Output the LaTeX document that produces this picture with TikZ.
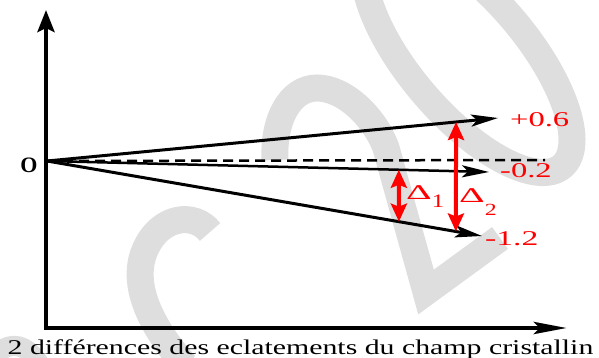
\documentclass[tikz,border=0pt]{standalone}
\usepackage{fontspec}
\setmainfont{Liberation Serif}
\usetikzlibrary{arrows.meta,calc}
\definecolor{wmark}{gray}{0.87}
\newcommand{\wide}[2]{\scalebox{#1}[1]{#2}}

\begin{document}
\begin{tikzpicture}[x=1pt, y=-1pt,
    axis/.style={line width=4.8pt},
    vec/.style={line width=3pt, -{Stealth[length=27pt,width=12pt,inset=6pt]}},
    gap/.style={red, line width=4pt, {Stealth[length=18pt,width=16pt,inset=3pt]}-{Stealth[length=18pt,width=16pt,inset=3pt]}},
    lbl/.style={red, font=\fontsize{21}{21}\selectfont, inner sep=0pt, anchor=base west},
    wm/.style={wmark, line width=27pt}
  ]
    \useasboundingbox (0,0) rectangle (599,358);

    % Watermark in the background
    \begin{scope}
      \clip (0,0) rectangle (599,358);
      \draw[wm] (210,232) .. controls (195,212) and (160,215) .. (145,250) .. controls (132,280) and (145,320) .. (185,365);
      \draw[wm, line join=miter] (275,160) .. controls (273,120) and (290,88) .. (317,88) .. controls (345,88) and (375,118) .. (386,148) -- (426,292) -- (500,238);
      \draw[wm, rotate around={-49.5:(468,56)}] (468,56) ellipse [x radius=145, y radius=58];
      \draw[wm, line width=20pt] (-10,362) .. controls (5,340) and (25,340) .. (40,365);
    \end{scope}

    % Axes
    \coordinate (org) at (46,328);
    \coordinate (ytip) at (46,10);
    \coordinate (xtip) at (567,328);
    \draw[axis, -{Stealth[length=22pt,width=17pt,inset=4pt]}] ([yshift=2.4pt]org) -- (ytip);
    \draw[axis, -{Stealth[length=33pt,width=12pt,inset=6pt]}] ([xshift=-2.4pt]org) -- (xtip);
    \node[font=\fontsize{22}{22}\selectfont\bfseries, inner sep=0pt] (olbl) at (29,165.5) {O};

    % Levels
    \coordinate (O) at (47,161);
    \coordinate (up) at (498,118);
    \coordinate (mid) at (489,172);
    \coordinate (low) at (482,236);
    \coordinate (dend) at (545,160);
    \draw[line width=2.5pt, dash pattern=on 10pt off 6pt] (O) -- (dend);
    \draw[vec] (O) -- (up);
    \draw[vec, line width=2.5pt] (O) -- (mid);
    \draw[vec] (O) -- (low);

    \node[lbl] (lup) at (510,127) {\wide{1.55}{+0.6}};
    \node[lbl] (lmid) at (500,178) {\wide{1.55}{-0.2}};
    \node[lbl] (llow) at (485,245) {\wide{1.6}{-1.2}};

    % Splittings
    \coordinate (d1a) at ($(O)!0.796!(mid)$);
    \coordinate (d1b) at ($(O)!0.809!(low)$);
    \coordinate (d2a) at ($(O)!0.907!(up)$);
    \coordinate (d2b) at ($(O)!0.940!(low)$);
    \draw[gap] (d1a) -- (d1b);
    \draw[gap] (d2a) -- (d2b);
    \node[lbl] (delta1) at (406,200) {\wide{1.9}{Δ}\raisebox{-8pt}{\fontsize{19}{19}\selectfont\wide{1.3}{1}}};
    \node[lbl] (delta2) at (459,202) {\wide{1.9}{Δ}\raisebox{-13pt}{\fontsize{17}{17}\selectfont\wide{1.4}{2}}};

    % Caption
    \node[anchor=base, font=\fontsize{21}{21}\selectfont, inner sep=0pt] (cap) at (300.5,354) {\wide{1.42}{2 différences des eclatements du champ cristallin}};
\end{tikzpicture}
\end{document}
